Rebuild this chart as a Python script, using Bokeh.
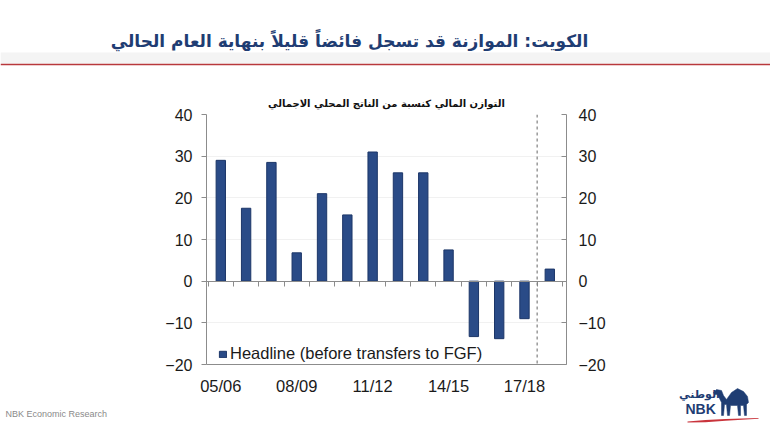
from bokeh.plotting import figure
from bokeh.layouts import column, row
from bokeh.models import (Range1d, LinearAxis, FixedTicker, Span, Label, Legend,
                          LegendItem, BoxAnnotation, ColumnDataSource, Title)
from bokeh.embed import file_html
from bokeh.resources import INLINE

# ---------------- data ----------------
categories = ["05/06", "06/07", "07/08", "08/09", "09/10", "10/11", "11/12",
              "12/13", "13/14", "14/15", "15/16", "16/17", "17/18", "18/19"]
balance = [29.0, 17.5, 28.5, 6.8, 21.0, 15.9, 31.0, 26.0, 26.0, 7.5,
           -13.3, -13.8, -9.0, 2.9]
y_ticks = [-20, -10, 0, 10, 20, 30, 40]
x_label_positions = [0, 3, 6, 9, 12]
forecast_start = 12.5
series_name = "Headline (before transfers to FGF)"
title_text = "الكويت: الموازنة قد تسجل فائضاً قليلاً بنهاية العام الحالي"
subtitle_text = "التوازن المالي كنسبة من الناتج المحلي الاجمالي"
source_text = "NBK Economic Research"
logo_ar = "الوطني"
logo_en = "NBK"

# logo outline (decoration, canvas pixels)
camel_x = [713, 716, 721, 723, 726, 731, 737, 743, 747, 748, 746, 746, 744, 743,
           740, 740, 738, 737, 730, 729, 727, 726, 724, 723, 721, 721, 719, 717, 714]
camel_y = [392, 389, 390, 395, 399, 392, 388, 391, 396, 402, 404, 415, 415, 405,
           405, 415, 415, 405, 405, 415, 415, 404, 404, 415, 415, 402, 398, 394, 394]
swoosh_x = [687, 705, 725, 758, 758, 725, 705, 687]
swoosh_y = [421, 419.6, 418.4, 417.4, 418.2, 420.2, 421.8, 422]

# ---------------- layout (canvas pixels) ----------------
W, H = 770, 432
HEAD_H = 88                 # header strip height
MAIN_X0, MAIN_X1 = 160, 610 # main figure horizontal extent
FL, FR, FT, FB = 206, 566, 114, 364   # plot frame edges

BAR = "#2a4b87"
BAR_LINE = "#1c3668"
AXIS = "#8c8c8c"
NAVY = "#1f3d73"


def blank(width, height, x0, x1, y_top, y_bot):
    f = figure(width=width, height=height, title=None,
               x_range=Range1d(x0, x1), y_range=Range1d(y_bot, y_top),
               output_backend="svg", toolbar_location=None,
               x_axis_location=None, y_axis_location=None, min_border=0,
               outline_line_color=None, background_fill_color="white",
               border_fill_color="white")
    f.xgrid.visible = False
    f.ygrid.visible = False
    return f


# ---------------- header ----------------
head = blank(W, HEAD_H, 0, W, 0, HEAD_H)
head.add_layout(BoxAnnotation(left=0, right=W, top=52, bottom=63,
                              fill_color="#f4f4f4", fill_alpha=1, line_color=None))
head.add_layout(Span(location=64, dimension="width", line_color="#b8383c",
                     line_width=1.6))
head.add_layout(Label(x=349, y=40, text=title_text, text_align="center",
                      text_baseline="middle", text_font="DejaVu Sans",
                      text_font_style="bold", text_font_size="17px",
                      text_color=NAVY))

# ---------------- main chart ----------------
src = ColumnDataSource(dict(x=list(range(len(categories))), val=balance,
                            cat=categories))

MAIN_W = MAIN_X1 - MAIN_X0
MAIN_H = H - HEAD_H
p = figure(width=MAIN_W, height=MAIN_H, title=None,
           x_range=Range1d(-0.565, 13.66), y_range=Range1d(-20, 40),
           output_backend="svg", toolbar_location=None,
           x_axis_location=None, y_axis_location="left",
           min_border_left=FL - MAIN_X0, min_border_right=MAIN_X1 - FR,
           min_border_top=FT - HEAD_H, min_border_bottom=H - FB,
           outline_line_color=None, background_fill_color="white",
           border_fill_color="white")

bars = p.vbar(x="x", top="val", bottom=0, width=0.37, source=src,
              fill_color=BAR, line_color=BAR_LINE, line_width=1)

la = p.yaxis[0]
la.ticker = FixedTicker(ticks=y_ticks)
la.major_tick_out = 5
la.major_tick_in = 0
la.minor_tick_line_color = None
la.axis_line_color = AXIS
la.major_tick_line_color = AXIS
la.major_label_text_font = "Liberation Sans"
la.major_label_text_font_size = "16px"
la.major_label_text_color = "#1a1a1a"
la.major_label_standoff = 9

ra = LinearAxis(ticker=FixedTicker(ticks=y_ticks), major_tick_in=5,
                major_tick_out=0, minor_tick_line_color=None,
                axis_line_color=AXIS, major_tick_line_color=AXIS,
                major_label_text_font="Liberation Sans",
                major_label_text_font_size="16px",
                major_label_text_color="#1a1a1a", major_label_standoff=12)
p.add_layout(ra, "right")

za = LinearAxis(fixed_location=0,
                ticker=FixedTicker(ticks=[i - 0.5 for i in range(len(categories) + 1)]),
                major_tick_out=5, major_tick_in=0, minor_tick_line_color=None,
                axis_line_color=AXIS, major_tick_line_color=AXIS,
                major_label_text_color=None)
p.add_layout(za, "below")

ba = LinearAxis(ticker=FixedTicker(ticks=x_label_positions),
                major_label_overrides={i: categories[i] for i in x_label_positions},
                major_tick_out=0, major_tick_in=0, minor_tick_line_color=None,
                axis_line_color=AXIS, major_tick_line_color=None,
                major_label_text_font="Liberation Sans",
                major_label_text_font_size="16.5px",
                major_label_text_color="#1a1a1a", major_label_standoff=12)
p.add_layout(ba, "below")

p.ygrid.ticker = FixedTicker(ticks=[-10, 10, 20, 30])
p.ygrid.grid_line_color = "#f1f1f1"
p.xgrid.visible = False

p.add_layout(Span(location=forecast_start, dimension="height",
                  line_color="#7f7f7f", line_dash="3 3", line_width=1.2))

legend = Legend(items=[LegendItem(label=series_name, renderers=[bars])],
                location=(12, 1), padding=0, margin=0,
                border_line_color=None, background_fill_alpha=0,
                glyph_width=9, glyph_height=8, label_standoff=3, spacing=0,
                label_text_font="Liberation Sans", label_text_font_size="16.5px",
                label_text_color="#1a1a1a")
p.add_layout(legend)

p.add_layout(Title(text=subtitle_text, align="center", text_font="DejaVu Sans",
                   text_font_style="bold", text_font_size="10px",
                   text_color="#111111", standoff=12), "above")

# ---------------- footer pieces ----------------
left = blank(MAIN_X0, MAIN_H, 0, MAIN_X0, HEAD_H, H)
left.add_layout(Label(x=5, y=413, text=source_text, text_align="left",
                      text_baseline="middle", text_font="Liberation Sans",
                      text_font_size="9px", text_color="#8a8a8a"))

right = blank(W - MAIN_X1, MAIN_H, MAIN_X1, W, HEAD_H, H)
right.add_layout(Label(x=699, y=394, text=logo_ar, text_align="center",
                       text_baseline="middle", text_font="DejaVu Sans",
                       text_font_style="bold", text_font_size="11px",
                       text_color=NAVY))
right.add_layout(Label(x=685, y=408, text=logo_en, text_align="left",
                       text_baseline="middle", text_font="Liberation Sans",
                       text_font_style="bold", text_font_size="14px",
                       text_color=NAVY))
right.patch(camel_x, camel_y, fill_color=NAVY, line_color=NAVY, line_width=0.5)
right.patch(swoosh_x, swoosh_y, fill_color="#c9343c", line_color=None)

layout = column(head, row(column(left), p, column(right)))
open("out.html", "w").write(file_html(layout, INLINE))
